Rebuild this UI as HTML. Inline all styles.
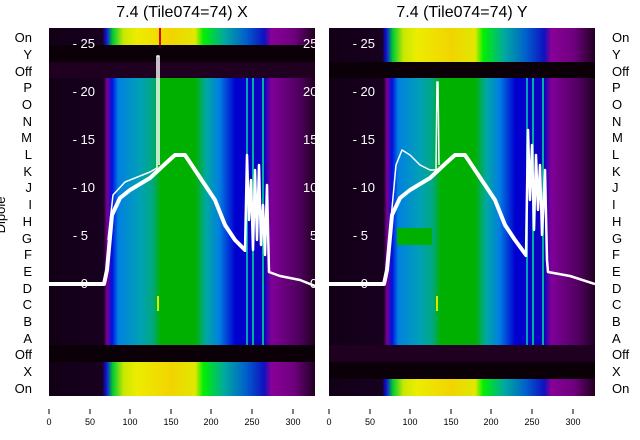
<!DOCTYPE html>
<html><head><style>body{margin:0;background:#fff}svg{display:block}text{font-family:"Liberation Sans","DejaVu Sans",sans-serif;stroke:none}</style></head><body>
<svg width="640" height="440" viewBox="0 0 640 440" xmlns="http://www.w3.org/2000/svg">
<defs>
<linearGradient id="sp" x1="0" x2="1" y1="0" y2="0">
<stop offset="0" stop-color="#120016"/><stop offset="0.205" stop-color="#180020"/><stop offset="0.218" stop-color="#7a0090"/><stop offset="0.237" stop-color="#0010e0"/><stop offset="0.26" stop-color="#0080e0"/><stop offset="0.34" stop-color="#00a0b8"/><stop offset="0.39" stop-color="#00a880"/><stop offset="0.42" stop-color="#00b000"/><stop offset="0.55" stop-color="#00b000"/><stop offset="0.59" stop-color="#00a8a0"/><stop offset="0.64" stop-color="#0080e0"/><stop offset="0.70" stop-color="#0000d0"/><stop offset="0.81" stop-color="#1000c0"/><stop offset="0.835" stop-color="#800098"/><stop offset="0.94" stop-color="#500060"/><stop offset="1" stop-color="#200020"/>
</linearGradient>
<linearGradient id="yl" x1="0" x2="1" y1="0" y2="0">
<stop offset="0" stop-color="#120016"/><stop offset="0.2" stop-color="#180020"/><stop offset="0.215" stop-color="#1010e0"/><stop offset="0.24" stop-color="#00cc30"/><stop offset="0.28" stop-color="#c8e800"/><stop offset="0.33" stop-color="#ecec00"/><stop offset="0.46" stop-color="#f2d400"/><stop offset="0.55" stop-color="#e0e800"/><stop offset="0.58" stop-color="#00f000"/><stop offset="0.66" stop-color="#00a8a0"/><stop offset="0.74" stop-color="#0060cc"/><stop offset="0.81" stop-color="#1010c0"/><stop offset="0.835" stop-color="#880098"/><stop offset="0.92" stop-color="#700080"/><stop offset="1" stop-color="#200020"/>
</linearGradient>
<clipPath id="cl"><rect x="49" y="28" width="266" height="368"/></clipPath>
<clipPath id="cr"><rect x="329" y="28" width="266" height="368"/></clipPath>
</defs>
<text x="182" y="17" font-size="16" text-anchor="middle">7.4 (Tile074=74) X</text>
<text x="462" y="17" font-size="16" text-anchor="middle">7.4 (Tile074=74) Y</text>
<g>
<rect x="49" y="28" width="266" height="17" fill="url(#yl)"/>
<rect x="49" y="45" width="266" height="17" fill="#0c0008"/>
<rect x="49" y="62" width="266" height="16" fill="#200020"/>
<rect x="49" y="78" width="266" height="267" fill="url(#sp)"/>
<rect x="49" y="345" width="266" height="17" fill="#0c0008"/>
<rect x="49" y="362" width="266" height="34" fill="url(#yl)"/>
<rect x="159" y="28" width="2" height="17" fill="#e00000"/>
<rect x="157" y="296" width="2" height="15" fill="#d8e800"/>
<rect x="246" y="78" width="2" height="267" fill="#00a0c0"/><rect x="252" y="78" width="2" height="267" fill="#00b0a0"/><rect x="262" y="78" width="2" height="267" fill="#00b0a0"/>
</g>
<g>
<rect x="329" y="28" width="266" height="34" fill="url(#yl)"/>
<rect x="329" y="62" width="266" height="16" fill="#0c0008"/>
<rect x="329" y="78" width="266" height="267" fill="url(#sp)"/>
<rect x="329" y="345" width="266" height="17" fill="#200020"/>
<rect x="329" y="362" width="266" height="17" fill="#0c0008"/>
<rect x="329" y="379" width="266" height="17" fill="url(#yl)"/>
<rect x="397" y="228" width="35" height="17" fill="#00b000"/>
<rect x="436" y="296" width="2" height="15" fill="#d8e800"/>
<rect x="526" y="78" width="2" height="267" fill="#00a0c0"/><rect x="532" y="78" width="2" height="267" fill="#00b0a0"/><rect x="542" y="78" width="2" height="267" fill="#00b0a0"/>
</g>
<g clip-path="url(#cl)" fill="none" stroke="#fff" stroke-linejoin="round">
<polyline stroke-width="4" points="49,284 104,284 107,270 112,215 120,198 130,190 150,178 165,164 175,155 185,155 195,170 205,185 215,200 225,225 235,240 245,250"/>
<polyline stroke-width="1.5" points="108,240 113,195 125,182 150,172 157,168"/>
<polyline stroke-width="1.5" points="157,168 157,56 159,56 159,165"/>
<polyline stroke-width="2.5" points="245,252 247,155 249,220 251,180 253,250 255,170 257,240 259,165 261,245 263,205 265,255 267,185 269,272 280,276 300,280 315,286"/>
<text x="95" y="48" fill="#fff" font-size="13" text-anchor="end">- 25</text>
<text x="95" y="96" fill="#fff" font-size="13" text-anchor="end">- 20</text>
<text x="95" y="144" fill="#fff" font-size="13" text-anchor="end">- 15</text>
<text x="95" y="192" fill="#fff" font-size="13" text-anchor="end">- 10</text>
<text x="88" y="240" fill="#fff" font-size="13" text-anchor="end">- 5</text>
<text x="88" y="288" fill="#fff" font-size="13" text-anchor="end">- 0</text>
<text x="303" y="48" fill="#fff" font-size="13">25</text><text x="303" y="96" fill="#fff" font-size="13">20</text><text x="303" y="144" fill="#fff" font-size="13">15</text><text x="303" y="192" fill="#fff" font-size="13">10</text><text x="310" y="240" fill="#fff" font-size="13">5</text><text x="310" y="288" fill="#fff" font-size="13">0</text>
</g>
<g clip-path="url(#cr)" fill="none" stroke="#fff" stroke-linejoin="round">
<polyline stroke-width="4" points="329,284 384,284 387,270 392,215 400,198 410,190 430,178 445,164 455,155 465,155 475,170 485,185 495,200 505,225 515,240 526,255"/>
<polyline stroke-width="1.5" points="390,230 396,165 402,150 410,155 420,165 430,170 436,170"/>
<polyline stroke-width="1.5" points="436,170 437,82 438,82 439,165"/>
<polyline stroke-width="2.5" points="526,257 528,130 530,200 532,145 534,230 536,155 538,210 540,165 542,235 545,170 547,260 548,272 570,276 595,284"/>
<text x="375" y="48" fill="#fff" font-size="13" text-anchor="end">- 25</text>
<text x="375" y="96" fill="#fff" font-size="13" text-anchor="end">- 20</text>
<text x="375" y="144" fill="#fff" font-size="13" text-anchor="end">- 15</text>
<text x="375" y="192" fill="#fff" font-size="13" text-anchor="end">- 10</text>
<text x="368" y="240" fill="#fff" font-size="13" text-anchor="end">- 5</text>
<text x="368" y="288" fill="#fff" font-size="13" text-anchor="end">- 0</text>
</g>
<g font-size="13" text-anchor="end">
<text x="32" y="42">On</text><text x="32" y="59">Y</text><text x="32" y="76">Off</text><text x="32" y="92">P</text><text x="32" y="109">O</text><text x="32" y="126">N</text><text x="32" y="142">M</text><text x="32" y="159">L</text><text x="32" y="176">K</text><text x="32" y="192">J</text><text x="32" y="209">I</text><text x="32" y="226">H</text><text x="32" y="243">G</text><text x="32" y="259">F</text><text x="32" y="276">E</text><text x="32" y="293">D</text><text x="32" y="309">C</text><text x="32" y="326">B</text><text x="32" y="343">A</text><text x="32" y="359">Off</text><text x="32" y="376">X</text><text x="32" y="393">On</text>
</g>
<g font-size="13">
<text x="612" y="42">On</text><text x="612" y="59">Y</text><text x="612" y="76">Off</text><text x="612" y="92">P</text><text x="612" y="109">O</text><text x="612" y="126">N</text><text x="612" y="142">M</text><text x="612" y="159">L</text><text x="612" y="176">K</text><text x="612" y="192">J</text><text x="612" y="209">I</text><text x="612" y="226">H</text><text x="612" y="243">G</text><text x="612" y="259">F</text><text x="612" y="276">E</text><text x="612" y="293">D</text><text x="612" y="309">C</text><text x="612" y="326">B</text><text x="612" y="343">A</text><text x="612" y="359">Off</text><text x="612" y="376">X</text><text x="612" y="393">On</text>
</g>
<text transform="translate(5,215) rotate(-90)" font-size="13" text-anchor="middle">Dipole</text>
<g font-size="9" text-anchor="middle" fill="#000">
<text x="49" y="425">0</text><text x="90" y="425">50</text><text x="130" y="425">100</text><text x="171" y="425">150</text><text x="211" y="425">200</text><text x="252" y="425">250</text><text x="293" y="425">300</text>
<text x="329" y="425">0</text><text x="370" y="425">50</text><text x="410" y="425">100</text><text x="451" y="425">150</text><text x="491" y="425">200</text><text x="532" y="425">250</text><text x="573" y="425">300</text>
</g>
<g stroke="#000" stroke-width="1">
<path d="M49,409v5M90,409v5M130,409v5M171,409v5M211,409v5M252,409v5M293,409v5M329,409v5M370,409v5M410,409v5M451,409v5M491,409v5M532,409v5M573,409v5"/>
</g>
</svg>
</body></html>
